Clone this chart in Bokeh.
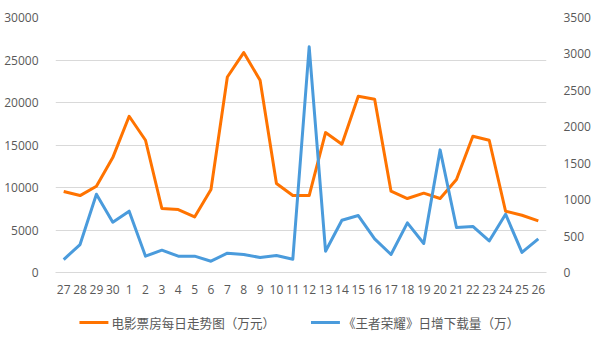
from bokeh.plotting import figure
from bokeh.layouts import column
from bokeh.core.properties import value
from bokeh.models import FactorRange, Range1d, LinearAxis, ColumnDataSource, FixedTicker
from bokeh.embed import file_html
from bokeh.resources import INLINE

days = ["27", "28", "29", "30", "1", "2", "3", "4", "5", "6", "7", "8", "9", "10", "11",
        "12", "13", "14", "15", "16", "17", "18", "19", "20", "21", "22", "23", "24", "25", "26"]
box_office = [9530, 9050, 10150, 13520, 18380, 15560, 7530, 7410, 6540, 9760, 23000, 25870,
              22610, 10470, 9050, 9050, 16460, 15090, 20730, 20380, 9560, 8700, 9330, 8700,
              10940, 16030, 15560, 7210, 6740, 6070]
downloads = [178, 384, 1075, 691, 842, 224, 306, 224, 224, 155, 265, 247, 206, 233, 183,
             3098, 292, 718, 782, 461, 247, 681, 398, 1683, 618, 632, 433, 800, 275, 461]
left_ticks = [0, 5000, 10000, 15000, 20000, 25000, 30000]
right_ticks = [0, 500, 1000, 1500, 2000, 2500, 3000, 3500]
series_names = ["电影票房每日走势图（万元）", "《王者荣耀》日增下载量（万）"]

ORANGE = "#FF7300"
BLUE = "#4A9BDC"
TXT = "#595959"
GRID = "#d9d9d9"
FONT = "Open Sans"

src = ColumnDataSource(dict(day=days, box=box_office, dl=downloads))

p = figure(width=593, height=300, x_range=FactorRange(*days), y_range=Range1d(0, 30000),
           output_backend="svg", toolbar_location=None,
           min_border_left=55, min_border_right=46, min_border_top=17, min_border_bottom=28)
p.outline_line_color = None
p.extra_y_ranges = {"right": Range1d(0, 3500)}

p.xgrid.grid_line_color = None
p.ygrid.grid_line_color = GRID
p.ygrid.grid_line_width = 1

yl = p.yaxis[0]
yl.ticker = FixedTicker(ticks=left_ticks)
yl.axis_line_color = None
yl.major_tick_line_color = None
yl.minor_tick_line_color = None
yl.major_label_standoff = 11
yl.major_label_text_font = FONT
yl.major_label_text_font_size = "12px"
yl.major_label_text_color = TXT

yr = LinearAxis(y_range_name="right", ticker=FixedTicker(ticks=right_ticks))
yr.axis_line_color = None
yr.major_tick_line_color = None
yr.minor_tick_line_color = None
yr.major_label_standoff = 11
yr.major_label_text_font = FONT
yr.major_label_text_font_size = "12px"
yr.major_label_text_color = TXT
p.add_layout(yr, "right")

xa = p.xaxis[0]
xa.axis_line_color = GRID
xa.major_tick_line_color = None
xa.minor_tick_line_color = None
xa.major_label_standoff = 6
xa.major_label_text_font = FONT
xa.major_label_text_font_size = "12px"
xa.major_label_text_color = TXT

p.line("day", "box", source=src, line_color=ORANGE, line_width=3, line_join="round")
p.line("day", "dl", source=src, y_range_name="right", line_color=BLUE, line_width=3,
       line_join="round")

# legend strip below the chart (its frame is aligned with the chart frame: pixels 55..547)
lg = figure(width=593, height=45, x_range=Range1d(55, 547), y_range=Range1d(45, 0),
            x_axis_type=None, y_axis_type=None, output_backend="svg", toolbar_location=None,
            min_border_left=55, min_border_right=46, min_border_top=0, min_border_bottom=0)
lg.outline_line_color = None
lg.grid.visible = False
leg_src = ColumnDataSource(dict(
    x0=[79, 311], x1=[108, 340], tx=[111, 343], y=[22, 22],
    color=[ORANGE, BLUE], name=series_names))
lg.segment(x0="x0", y0="y", x1="x1", y1="y", color="color", line_width=3, source=leg_src)
lg.text(x="tx", y="y", text="name", source=leg_src, text_font=value("Noto Sans CJK SC"),
        text_font_size="12.6px", text_baseline="middle", text_align="left", text_color=TXT)

open("out.html", "w").write(file_html(column(p, lg, spacing=0), INLINE))
